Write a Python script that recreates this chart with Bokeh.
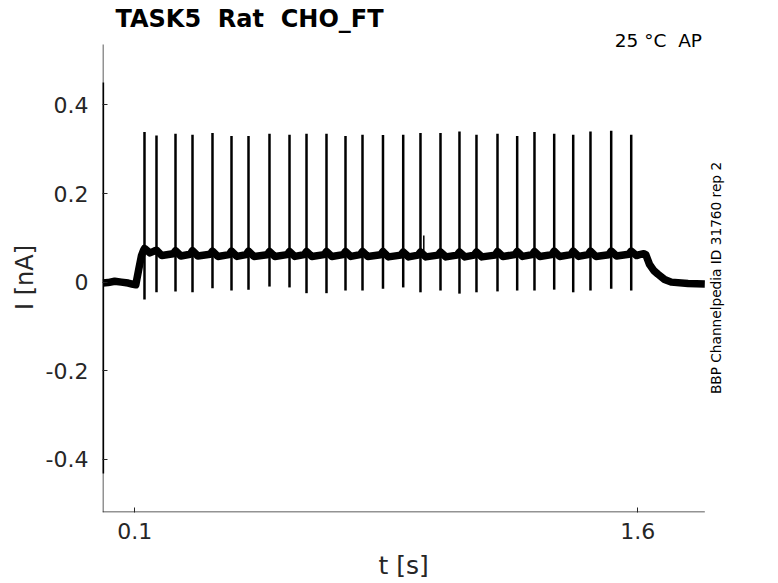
import math
from bokeh.plotting import figure
from bokeh.models import Label, FixedTicker, Range1d, LinearAxis
from bokeh.embed import file_html
from bokeh.resources import INLINE

# ---------------- data ----------------
spike_t = [0.1289, 0.1647, 0.2214, 0.2721, 0.3317, 0.3884, 0.4391, 0.5017, 0.5614,
           0.6121, 0.6717, 0.7284, 0.7791, 0.8402, 0.9005, 0.9520, 1.0117, 1.0683,
           1.1190, 1.1817, 1.2404, 1.2920, 1.3508, 1.4075, 1.4590, 1.5208, 1.5805]
spike_peak = [0.339, 0.331, 0.335, 0.333, 0.337, 0.330, 0.330, 0.335, 0.333, 0.335,
              0.335, 0.330, 0.333, 0.332, 0.333, 0.337, 0.337, 0.340, 0.333, 0.335,
              0.330, 0.339, 0.335, 0.333, 0.340, 0.342, 0.333]
spike_trough = [-0.039, -0.023, -0.021, -0.023, -0.014, -0.019, -0.017, -0.010, -0.012,
                -0.025, -0.025, -0.019, -0.019, -0.015, -0.012, -0.023, -0.019, -0.026,
                -0.023, -0.021, -0.019, -0.019, -0.017, -0.023, -0.019, -0.015, -0.019]
# baseline current at each spike and in the sag after each spike
base_at_spike = [0.076, 0.072, 0.071, 0.071, 0.070, 0.070, 0.070, 0.069, 0.069,
                 0.069, 0.069, 0.069, 0.069, 0.069, 0.068, 0.068, 0.068, 0.068,
                 0.068, 0.069, 0.069, 0.069, 0.070, 0.070, 0.070, 0.070, 0.070]
base_between = [0.066, 0.060, 0.059, 0.059, 0.058, 0.058, 0.058, 0.058, 0.058,
                0.058, 0.058, 0.058, 0.058, 0.057, 0.057, 0.057, 0.057, 0.057,
                0.057, 0.058, 0.058, 0.058, 0.058, 0.058, 0.058, 0.059, 0.060]
# holding segment before the step, and the rise
pre_t = [0.0050, 0.020, 0.040, 0.060, 0.080, 0.095, 0.103, 0.112, 0.120, 0.126]
pre_v = [-0.002, -0.001, 0.002, 0.000, -0.002, -0.005, -0.006, 0.030, 0.060, 0.072]
# end of step and decay back to holding
post_t = [1.605, 1.618, 1.624, 1.635, 1.648, 1.660, 1.680, 1.700, 1.750, 1.800]
post_v = [0.062, 0.064, 0.062, 0.040, 0.026, 0.018, 0.006, 0.000, -0.003, -0.004]
# capacitive transient at t=0 and a small glitch
transient_t = 0.0056
transient_lo, transient_hi = -0.432, 0.451
glitch_t, glitch_v = 0.9619, 0.105

x_ticks = [0.1, 1.6]
x_tick_labels = ["0.1", "1.6"]
y_ticks = [-0.4, -0.2, 0, 0.2, 0.4]
y_tick_labels = ["-0.4", "-0.2", "0", "0.2", "0.4"]
t_end = 1.8
i_top = 0.5366

NB = "\u00a0"
title_text = "TASK5" + NB * 2 + "Rat" + NB * 2 + "CHO_FT"
cond_text = "25" + NB + "°C" + NB * 2 + "AP"
side_text = "BBP Channelpedia ID 31760 rep 2"
x_label, y_label = "t [s]", "I [nA]"

# ---------------- build baseline path ----------------
bx = list(pre_t)
by = list(pre_v)
n = len(spike_t)
for i in range(n):
    if i > 0:
        bx.append(spike_t[i] - 0.007); by.append(base_between[i - 1] + 0.004)
    bx.append(spike_t[i]); by.append(base_at_spike[i])
    bx.append(spike_t[i] + 0.016); by.append(base_between[i])
bx += post_t
by += post_v

FONT = "DejaVu Sans"
GRAY = "#262626"

X0, X1 = 0.00367, 1.9959
Y0, Y1 = -0.5203, 0.6360

p = figure(width=770, height=583, output_backend="svg", toolbar_location=None,
           x_range=Range1d(X0, X1), y_range=Range1d(Y0, Y1),
           min_border_left=102, min_border_right=0, min_border_top=0, min_border_bottom=71)
p.title.visible = False
p.outline_line_color = None
p.xgrid.visible = False
p.ygrid.visible = False
p.background_fill_color = "white"
p.border_fill_color = "white"


def style_axis(ax, size):
    ax.axis_line_color = None
    ax.major_tick_line_color = GRAY
    ax.major_tick_in = 5
    ax.major_tick_out = 0
    ax.minor_tick_line_color = None
    ax.major_label_text_font = FONT
    ax.major_label_text_font_size = size
    ax.major_label_text_color = GRAY


for ax in (p.xaxis[0], p.yaxis[0]):
    style_axis(ax, "22px")

p.xaxis.ticker = FixedTicker(ticks=x_ticks)
p.xaxis.major_label_overrides = {t: l for t, l in zip(x_ticks, x_tick_labels)}
p.xaxis.major_label_standoff = 10

p.yaxis.ticker = FixedTicker(ticks=y_ticks)
p.yaxis.major_label_overrides = {t: l for t, l in zip(y_ticks, y_tick_labels)}
p.yaxis.major_label_standoff = 14

# axis titles as single-tick outer axes, centred under/beside the data area
x_label_pos = 0.902
xl = LinearAxis(ticker=FixedTicker(ticks=[x_label_pos]),
                major_label_overrides={x_label_pos: x_label})
style_axis(xl, "25px")
xl.major_tick_line_color = None
xl.major_tick_in = 0
xl.major_label_standoff = 9
p.add_layout(xl, "below")

y_label_pos = 0.0104
yl = LinearAxis(ticker=FixedTicker(ticks=[y_label_pos]),
                major_label_overrides={y_label_pos: y_label},
                major_label_orientation="parallel")
style_axis(yl, "24px")
yl.major_tick_line_color = None
yl.major_tick_in = 0
yl.major_label_standoff = 3
p.add_layout(yl, "left")

# axis lines (box off: only left and bottom, ending at the data limits)
px_x = (X1 - X0) / 668.0
px_y = (Y1 - Y0) / 512.0
p.segment(x0=[X0 + 0.5 * px_x], y0=[Y0], x1=[X0 + 0.5 * px_x], y1=[i_top],
          line_color=GRAY, line_width=1)
p.segment(x0=[X0], y0=[Y0 + 0.5 * px_y], x1=[t_end], y1=[Y0 + 0.5 * px_y],
          line_color=GRAY, line_width=1)

# trace
p.line(bx, by, line_color="black", line_width=7.5, line_join="round")
p.segment(x0=spike_t, y0=spike_trough, x1=spike_t, y1=spike_peak,
          line_color="black", line_width=2.5)
p.segment(x0=[transient_t], y0=[transient_lo], x1=[transient_t], y1=[transient_hi],
          line_color="black", line_width=2)
p.segment(x0=[glitch_t], y0=[0.06], x1=[glitch_t], y1=[glitch_v],
          line_color="black", line_width=1.5)

# texts
p.add_layout(Label(x=0.0424, y=0.5935, text=title_text, text_font=FONT,
                   text_font_size="24px", text_font_style="bold", text_color="black",
                   text_baseline="alphabetic", text_align="left"))
p.add_layout(Label(x=1.7915, y=0.5455, text=cond_text, text_font=FONT,
                   text_font_size="18.5px", text_color="black",
                   text_baseline="alphabetic", text_align="right"))
p.add_layout(Label(x=1.8347, y=0.0093, text=side_text,
                   text_font=FONT, text_font_size="13.7px", text_color="black",
                   angle=math.pi / 2, text_align="center", text_baseline="middle"))

open("out.html", "w").write(file_html(p, INLINE))
